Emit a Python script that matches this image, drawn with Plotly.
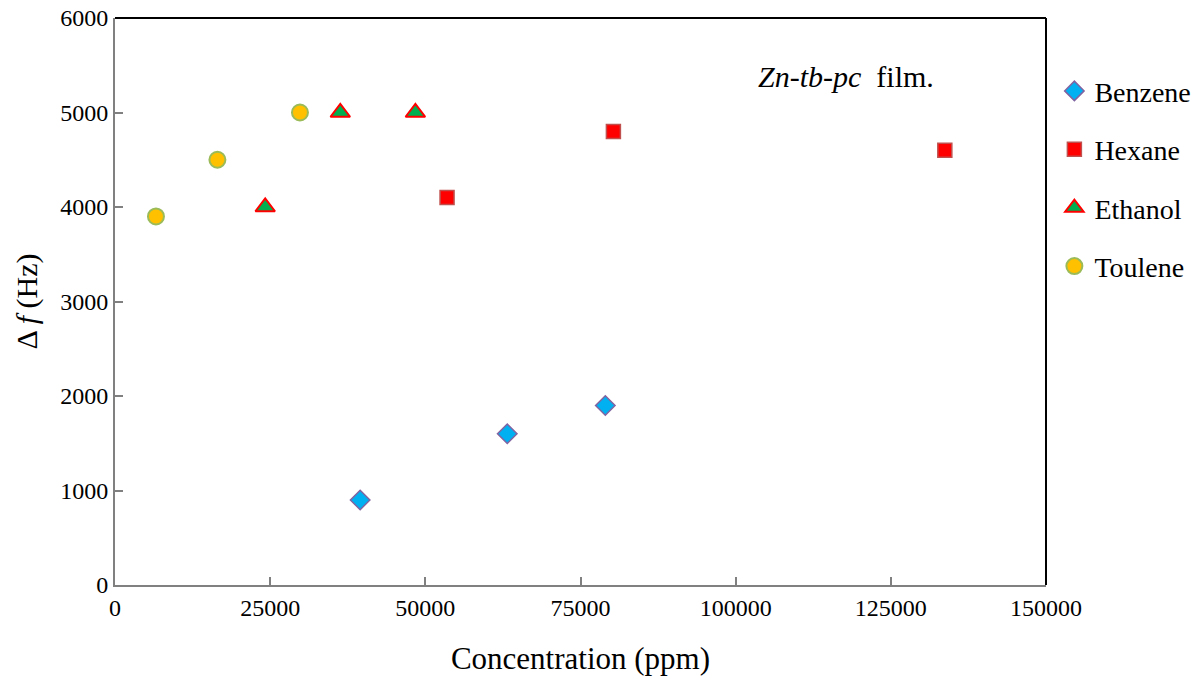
import plotly.graph_objects as go

benzene_x = [39500, 63200, 79000]
benzene_y = [900, 1600, 1900]
hexane_x = [53500, 80300, 133700]
hexane_y = [4100, 4800, 4600]
ethanol_x = [24200, 36300, 48400]
ethanol_y = [4000, 5000, 5000]
toulene_x = [6600, 16500, 29800]
toulene_y = [3900, 4500, 5000]

x_ticks = [0, 25000, 50000, 75000, 100000, 125000, 150000]
y_ticks = [0, 1000, 2000, 3000, 4000, 5000, 6000]

FONT = "Liberation Serif, Times New Roman, serif"

fig = go.Figure()
fig.add_trace(go.Scatter(x=benzene_x, y=benzene_y, mode="markers", name="Benzene",
                         legendgroup="a",
                         marker=dict(symbol="diamond", size=15, color="#00B0F0",
                                     line=dict(color="#8064A2", width=1.5))))
fig.add_trace(go.Scatter(x=hexane_x, y=hexane_y, mode="markers", name="Hexane",
                         legendgroup="b",
                         marker=dict(symbol="square", size=14, color="#FF0000",
                                     line=dict(color="#C0504D", width=1.5))))
fig.add_trace(go.Scatter(x=ethanol_x, y=ethanol_y, mode="markers", name="Ethanol",
                         legendgroup="c",
                         marker=dict(symbol="triangle-up", size=17, color="#00B050",
                                     line=dict(color="#FF0000", width=2))))
fig.add_trace(go.Scatter(x=toulene_x, y=toulene_y, mode="markers", name="Toulene",
                         legendgroup="d",
                         marker=dict(symbol="circle", size=16, color="#FFC000",
                                     line=dict(color="#9BBB59", width=2))))

axis_common = dict(showgrid=False, zeroline=False, showline=True, linecolor="#808080",
                   linewidth=2, ticks="inside", ticklen=8, tickcolor="#808080", tickwidth=2,
                   ticklabeloverflow="allow",
                   tickfont=dict(family=FONT, size=24, color="black"))

fig.update_xaxes(range=[0, 150000], tickvals=x_ticks, ticktext=[str(v) for v in x_ticks],
                 title=dict(text="Concentration (ppm)", font=dict(family=FONT, size=31, color="black"),
                            standoff=28),
                 **axis_common)
fig.update_yaxes(range=[0, 6000], tickvals=y_ticks, ticktext=[str(v) for v in y_ticks],
                 title=dict(text="Δ <i>f</i> (Hz)", font=dict(family=FONT, size=30, color="black"),
                            standoff=14),
                 **axis_common)

# top and right borders (black)
fig.add_shape(type="line", xref="paper", yref="paper", x0=0, x1=1, y0=1, y1=1,
              line=dict(color="black", width=2))
fig.add_shape(type="line", xref="paper", yref="paper", x0=1, x1=1, y0=0, y1=1,
              line=dict(color="black", width=2))

fig.add_annotation(x=0.785, y=0.896, xref="paper", yref="paper", showarrow=False,
                   xanchor="center", yanchor="middle",
                   text="<i>Zn-tb-pc</i>  film.", font=dict(family=FONT, size=30, color="black"))

fig.update_layout(
    width=1203, height=682,
    margin=dict(l=115, r=157, t=18, b=97, autoexpand=False),
    plot_bgcolor="white", paper_bgcolor="white",
    legend=dict(x=1.009, y=0.915, xanchor="left", yanchor="top", tracegroupgap=19,
                font=dict(family=FONT, size=28, color="black"), itemwidth=30,
                bgcolor="rgba(0,0,0,0)"),
)

fig.write_html("out.html", config={"displayModeBar": False},
               post_script="document.body.style.margin='0';")
